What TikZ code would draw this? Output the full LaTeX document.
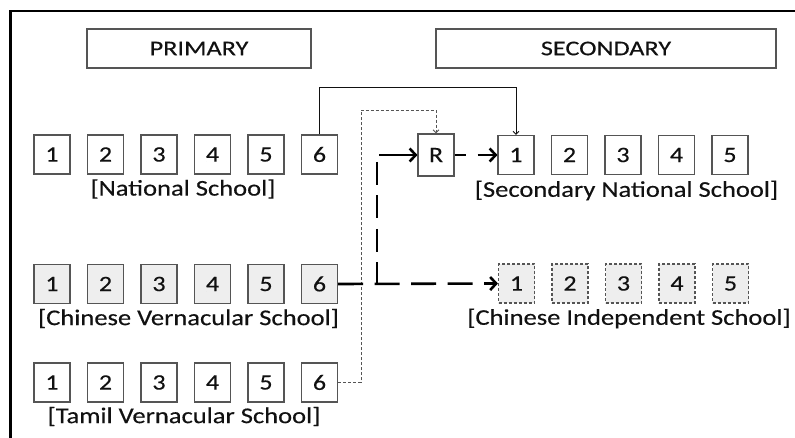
\documentclass[tikz,border=0pt]{standalone}
\usepackage{fontspec}
\setmainfont{Carlito}[FakeStretch=1.18,FakeBold=0.35]
\newfontfamily\hdfont{Carlito}[FakeStretch=1.25,FakeBold=0.35]
\usetikzlibrary{arrows.meta}
\definecolor{boxgray}{HTML}{555555}
\definecolor{txt}{HTML}{111111}
\definecolor{cellfill}{HTML}{EEEEEE}
\begin{document}
\begin{tikzpicture}[x=1pt,y=-1pt,
  cell/.style={draw=boxgray, line width=1.1pt, minimum width=36pt, minimum height=39pt,
    inner sep=0pt, font=\fontsize{22}{26}\selectfont, text=txt},
  shaded/.style={cell, fill=cellfill},
  indep/.style={cell, fill=cellfill, dashed, dash pattern=on 3pt off 2pt},
  lbl/.style={inner sep=0pt, font=\fontsize{22.5}{26}\selectfont, text=txt},
  head/.style={draw=boxgray, line width=1.1pt, minimum height=39pt, inner sep=0pt,
    font=\hdfont\fontsize{21}{25}\selectfont, text=txt},
  thinarrow/.style={draw=txt, line width=0.9pt, -{Straight Barb[length=3pt,width=6pt]}},
  tamilline/.style={draw=boxgray, line width=0.9pt, dash pattern=on 3pt off 2pt, -{Straight Barb[length=3pt,width=6pt]}},
  heavy/.style={draw=black, line width=2.6pt},
  heavyarrow/.style={heavy, -{Straight Barb[length=6pt,width=13pt]}}
]
\useasboundingbox (0,0) rectangle (795,438);
% frame
\draw[line width=2.6pt, line cap=rect] (10.4,445) -- (10.4,11) -- (800,11);
% headers
\node[head, minimum width=224pt] (prim) at (199,48.5) {PRIMARY};
\node[head, minimum width=340pt] (sec) at (606,48.5) {SECONDARY};
% primary rows
\foreach \i in {1,...,6} {
  \node[cell]   (N\i) at ({52+53.5*(\i-1)},154.5) {\i};
  \node[shaded] (C\i) at ({52+53.5*(\i-1)},284) {\i};
  \node[cell]   (T\i) at ({52+53.5*(\i-1)},382.5) {\i};
}
\node[lbl] (nlab) at (183,189) {[National School]};
\node[lbl] (clab) at (188.5,318.5) {[Chinese Vernacular School]};
\node[lbl] (tlab) at (184,416.5) {[Tamil Vernacular School]};
% secondary rows
\node[cell, minimum height=42pt] (R) at (436,155) {R};
\foreach \i in {1,...,5} {
  \node[cell]  (S\i) at ({516+53.5*(\i-1)},155) {\i};
  \node[indep] (I\i) at ({516.5+53.5*(\i-1)},283.5) {\i};
}
\node[lbl] (slab) at (626.5,190.5) {[Secondary National School]};
\node[lbl] (ilab) at (629,318.5) {[Chinese Independent School]};
% connectors
\draw[thinarrow] (N6.north) -- ++(0,-46.5) -| (S1.north);
\coordinate (tb) at (361,382.5);
\coordinate (tt) at (361,110);
\draw[tamilline] (T6.east) -- (tb) -- (tt) -| (R.north);
\coordinate (J) at (377,284);
\coordinate (Vtop) at (377,162);
\coordinate (Hstart) at (379,155);
\draw[heavyarrow, dash pattern=on 25pt off 11.5pt] (C6.east) -- (I1.west);
\draw[heavy, dash pattern=on 23pt off 10.5pt] (Vtop) -- (J);
\draw[heavyarrow] (Hstart) -- (R.west);
\draw[heavyarrow, dash pattern=on 11pt off 12pt on 40pt] (R.east) -- (S1.west);
\end{tikzpicture}
\end{document}
